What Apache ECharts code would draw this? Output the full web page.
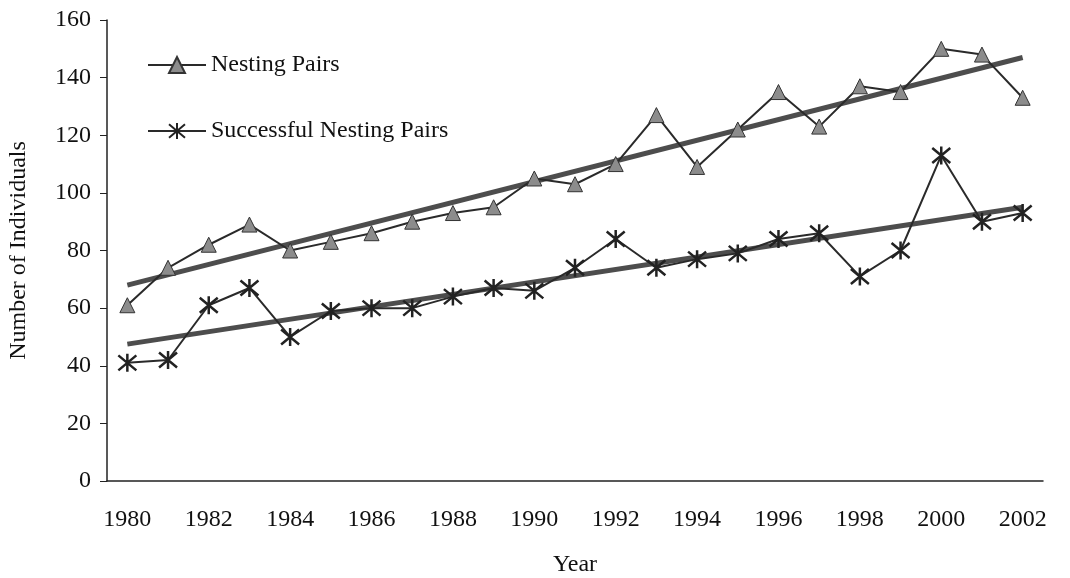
<!DOCTYPE html>
<html>
<head>
<meta charset="utf-8">
<script src="https://cdn.jsdelivr.net/npm/echarts@6/dist/echarts.min.js"></script>
<style>
    html, body { margin: 0; padding: 0; background: #fff; }
    #chart { width: 1070px; height: 578px; }
</style>
</head>
<body>
<div id="chart"></div>
<script>
var years = ['1980', '1981', '1982', '1983', '1984', '1985', '1986', '1987', '1988', '1989', '1990', '1991',
    '1992', '1993', '1994', '1995', '1996', '1997', '1998', '1999', '2000', '2001', '2002'];
var nestingPairs = [61, 74, 82, 89, 80, 83, 86, 90, 93, 95, 105, 103, 110, 127, 109, 122, 135, 123, 137, 135, 150, 148, 133];
var successfulPairs = [41, 42, 61, 67, 50, 59, 60, 60, 64, 67, 66, 74, 84, 74, 77, 79, 84, 86, 71, 80, 113, 90, 93];
// trend lines, end points
var nestingTrend = [['1980', 68], ['2002', 147]];
var successfulTrend = [['1980', 47.5], ['2002', 95]];

var font = '"Liberation Serif", "Times New Roman", serif';
var starSymbol = 'path://M0 0 L10 10 M10 0 L0 10 M5 -1 L5 11';

function loadChart() {
    var chart = echarts.init(document.getElementById('chart'));
    var option = {
        animation: false,
        backgroundColor: '#fff',
        textStyle: { fontFamily: font, color: '#111' },
        grid: { left: 107, right: 27, top: 20, bottom: 97, containLabel: false, outerBoundsMode: 'none' },
        legend: {
            data: ['Nesting Pairs', 'Successful Nesting Pairs'],
            orient: 'vertical',
            left: 142,
            top: 48,
            itemWidth: 58,
            itemHeight: 20,
            itemGap: 42,
            textStyle: { fontFamily: font, fontSize: 24, color: '#111' }
        },
        xAxis: {
            type: 'category',
            data: years,
            boundaryGap: true,
            name: 'Year',
            nameLocation: 'middle',
            nameGap: 72,
            nameTextStyle: { fontFamily: font, fontSize: 24, color: '#111' },
            axisLine: { lineStyle: { color: '#222', width: 1.5 } },
            axisTick: { interval: 0, length: 7, lineStyle: { color: '#222' } },
            axisLabel: { interval: 1, margin: 27, fontFamily: font, fontSize: 24, color: '#111' },
            splitLine: { show: false }
        },
        yAxis: {
            type: 'value',
            min: 0,
            max: 160,
            interval: 20,
            name: 'Number of Individuals',
            nameLocation: 'middle',
            nameGap: 76,
            nameTextStyle: { fontFamily: font, fontSize: 24, color: '#111' },
            axisLine: { show: true, lineStyle: { color: '#222', width: 1.5 } },
            axisTick: { show: true, length: 7, lineStyle: { color: '#222' } },
            axisLabel: { margin: 16, fontFamily: font, fontSize: 24, color: '#111' },
            splitLine: { show: false }
        },
        series: [{
            name: 'Nesting Pairs',
            type: 'line',
            data: nestingPairs,
            symbol: 'triangle',
            symbolSize: 15,
            z: 3,
            lineStyle: { color: '#2a2a2a', width: 2 },
            itemStyle: { color: '#8c8c8c', borderColor: '#333', borderWidth: 1 }
        }, {
            name: 'Successful Nesting Pairs',
            type: 'line',
            data: successfulPairs,
            symbol: starSymbol,
            symbolSize: 18,
            z: 3,
            lineStyle: { color: '#2a2a2a', width: 2 },
            itemStyle: { color: 'none', borderColor: '#222', borderWidth: 2.5 }
        }, {
            name: 'Nesting Trend',
            type: 'line',
            data: nestingTrend,
            symbol: 'none',
            z: 2,
            lineStyle: { color: '#4d4d4d', width: 5 }
        }, {
            name: 'Successful Trend',
            type: 'line',
            data: successfulTrend,
            symbol: 'none',
            z: 2,
            lineStyle: { color: '#4d4d4d', width: 5 }
        }]
    };
    chart.setOption(option);
}
loadChart();
</script>
</body>
</html>
